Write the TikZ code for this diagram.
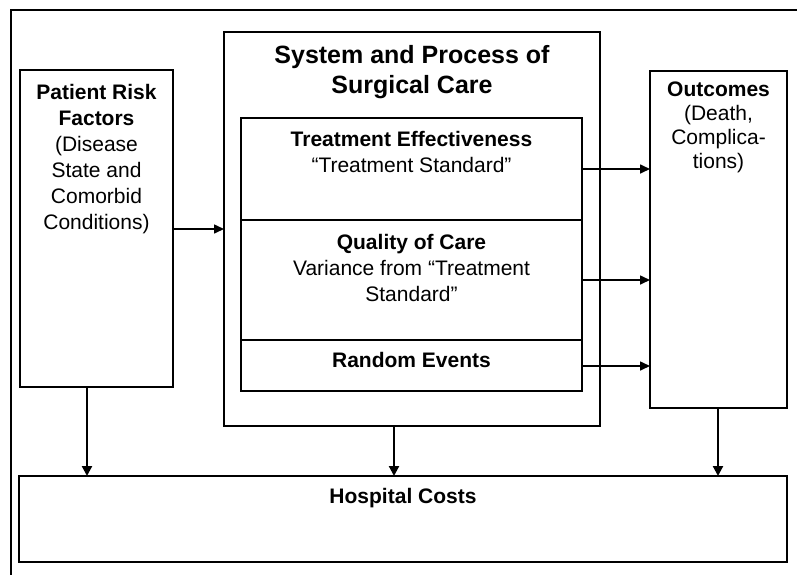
\documentclass[tikz,border=0pt]{standalone}
\usepackage{fontspec}
\setmainfont{Liberation Sans}
\usetikzlibrary{arrows.meta}
\begin{document}
\begin{tikzpicture}[x=1pt,y=-1pt,
  box/.style={draw, line width=2pt, rectangle, inner sep=0pt, outer sep=0pt, anchor=north west},
  lbl/.style={anchor=north, inner sep=0pt, align=center, font=\fontsize{21}{26}\selectfont},
  arr/.style={line width=1.6pt, -{Triangle[length=10pt,width=9pt]}},
  darr/.style={line width=2.2pt, -{Triangle[length=10pt,width=10pt]}}]
\useasboundingbox (0,0) rectangle (797,574);
\draw[line width=2pt] (11,580) -- (11,10) -- (800,10);
% boxes
\node[box, minimum width=153pt, minimum height=317pt] (pat) at (20,70) {};
\node[box, minimum width=376pt, minimum height=394pt] (sys) at (224,32) {};
\node[box, minimum width=341pt, minimum height=102pt] (te) at (241,118) {};
\node[box, minimum width=341pt, minimum height=120pt] (qc) at (241,220) {};
\node[box, minimum width=341pt, minimum height=51pt] (re) at (241,340) {};
\node[box, minimum width=137pt, minimum height=337pt] (out) at (650,71) {};
\node[box, minimum width=768pt, minimum height=86pt] (hc) at (19,476) {};
% texts
\node[lbl] (patT) at (96.5,84.5) {\textbf{Patient Risk}\\\textbf{Factors}\\(Disease\\State and\\Comorbid\\Conditions)};
\node[lbl, font=\fontsize{25}{30}\selectfont\bfseries] (sysT) at (412,45) {System and Process of\\Surgical Care};
\node[lbl] (teT) at (411.5,131.5) {\textbf{Treatment Effectiveness}\\“Treatment Standard”};
\node[lbl] (qcT) at (411.5,234.5) {\textbf{Quality of Care}\\Variance from “Treatment\\Standard”};
\node[lbl] (reT) at (411.5,352.5) {\textbf{Random Events}};
\node[lbl, font=\fontsize{21}{24}\selectfont] (outT) at (718.5,81.5) {\textbf{Outcomes}\\(Death,\\Complica-\\tions)};
\node[lbl] (hcT) at (403,488.5) {\textbf{Hospital Costs}};
% connectors
\coordinate (yPS) at (0,229);
\coordinate (yTE) at (0,169);
\coordinate (yQC) at (0,280);
\coordinate (yRE) at (0,366);
\coordinate (xA) at (87,0);
\coordinate (xB) at (394,0);
\coordinate (xC) at (718,0);
\draw[arr] (pat.east |- yPS) -- (sys.west |- yPS);
\draw[arr] (te.east |- yTE) -- (out.west |- yTE);
\draw[arr] (qc.east |- yQC) -- (out.west |- yQC);
\draw[arr] (re.east |- yRE) -- (out.west |- yRE);
\draw[darr] (pat.south -| xA) -- (hc.north -| xA);
\draw[darr] (sys.south -| xB) -- (hc.north -| xB);
\draw[darr] (out.south -| xC) -- (hc.north -| xC);
\end{tikzpicture}
\end{document}
